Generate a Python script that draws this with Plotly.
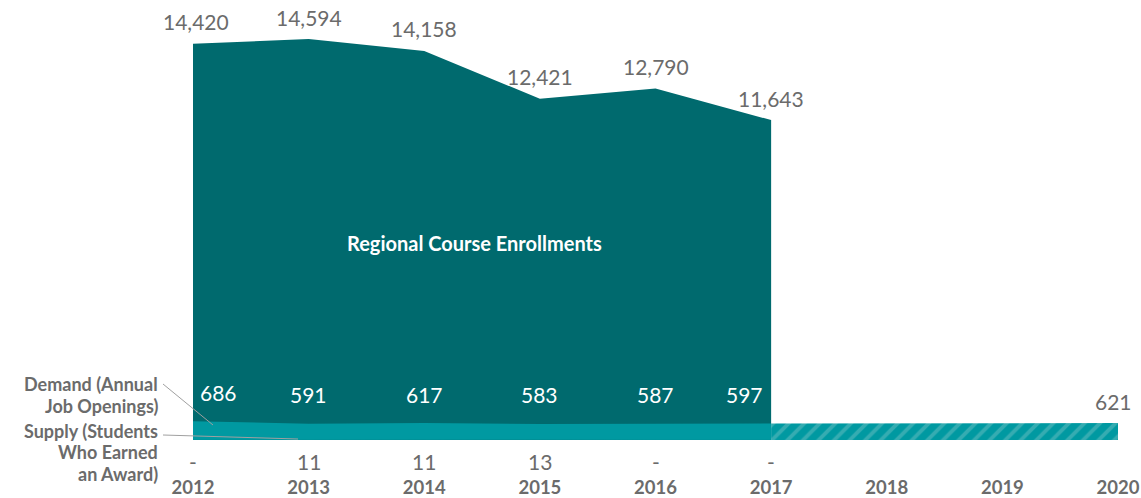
import plotly.graph_objects as go

# Data
years = [2012, 2013, 2014, 2015, 2016, 2017]
enrollments = [14420, 14594, 14158, 12421, 12790, 11643]
demand = [686, 591, 617, 583, 587, 597]
supply = [0, 11, 11, 13, 0, 0]
supply_text = ["-", "11", "11", "13", "-", "-"]
proj_years = [2017, 2020]
proj_demand = [597, 621]
axis_years = [2012, 2013, 2014, 2015, 2016, 2017, 2018, 2019, 2020]
demand_label = ["Demand (Annual", "Job Openings)"]
supply_label = ["Supply (Students", "Who Earned", "an Award)"]

DARK = "#006A6E"
MID = "#0099A1"
HATCH = "#6ABFC2"
GRAY = "#6B6B6B"
FONT = "Lato"

W, H = 1141, 498
L, R, T, B = 193, 23, 39, 58
PW, PH = W - L - R, H - T - B


def px_x(px):
    return (px - L) / PW


def px_y(py):
    return (H - B - py) / PH


fig = go.Figure()

fig.add_trace(go.Scatter(
    x=years, y=enrollments, mode="lines", fill="tozeroy",
    line=dict(width=0, color=DARK), fillcolor=DARK, hoverinfo="skip"))

fig.add_trace(go.Scatter(
    x=proj_years, y=proj_demand, mode="lines", fill="tozeroy",
    line=dict(width=0, color=MID), fillcolor=MID,
    fillpattern=dict(shape="/", bgcolor=MID, fgcolor=HATCH, size=11, solidity=0.35),
    hoverinfo="skip"))

fig.add_trace(go.Scatter(
    x=years, y=demand, mode="lines", fill="tozeroy",
    line=dict(width=0, color=MID), fillcolor=MID, hoverinfo="skip"))

fig.add_trace(go.Scatter(
    x=years, y=supply, mode="lines", fill="tozeroy",
    line=dict(width=0.5, color="#008A91"), fillcolor="#008A91", hoverinfo="skip"))

ann = []
# enrollment values above the area
for i, (x, v) in enumerate(zip(years, enrollments)):
    xs = 3 if i == 0 else 0
    ann.append(dict(x=x, y=v, text=f"{v:,}", showarrow=False, xshift=xs, yshift=22,
                    font=dict(family=FONT, size=21, color=GRAY)))

# demand values inside the enrollment area
for i, (x, v) in enumerate(zip(years, demand)):
    xs = 25 if i == 0 else (-27 if i == len(years) - 1 else 0)
    ann.append(dict(x=x, y=v, text=str(v), showarrow=False, xshift=xs, yshift=29,
                    font=dict(family=FONT, size=21, color="white")))

ann.append(dict(x=proj_years[-1], y=proj_demand[-1], text=str(proj_demand[-1]),
                showarrow=False, xshift=-5, yshift=21,
                font=dict(family=FONT, size=21, color=GRAY)))

# supply values below the baseline
for x, t in zip(years, supply_text):
    ann.append(dict(x=x, y=0, text=t, showarrow=False, yshift=-21,
                    font=dict(family=FONT, size=21, color=GRAY)))

ann.append(dict(x=px_x(474), y=px_y(243), xref="paper", yref="paper",
                xanchor="center", yanchor="middle",
                text="<b>Regional Course Enrollments</b>", showarrow=False,
                font=dict(family=FONT, size=20, color="white")))

# series captions on the left, one annotation per line
for k, line in enumerate(demand_label):
    ann.append(dict(x=px_x(159), y=px_y(384 + 21.5 * k), xref="paper", yref="paper",
                    text=f"<b>{line}</b>", showarrow=False,
                    xanchor="right", yanchor="middle", borderpad=0,
                    font=dict(family=FONT, size=18, color=GRAY)))
for k, line in enumerate(supply_label):
    ann.append(dict(x=px_x(159), y=px_y(431 + 21.5 * k), xref="paper", yref="paper",
                    text=f"<b>{line}</b>", showarrow=False,
                    xanchor="right", yanchor="middle", borderpad=0,
                    font=dict(family=FONT, size=18, color=GRAY)))

shapes = [
    dict(type="line", xref="paper", yref="paper", x0=px_x(163), y0=px_y(384),
         x1=px_x(213), y1=px_y(425), line=dict(color="#A0A0A0", width=1)),
    dict(type="line", xref="paper", yref="paper", x0=px_x(163), y0=px_y(435),
         x1=px_x(298), y1=px_y(439), line=dict(color="#A0A0A0", width=1)),
]

fig.update_layout(
    width=W, height=H,
    margin=dict(l=L, r=R, t=T, b=B),
    paper_bgcolor="white", plot_bgcolor="white",
    showlegend=False,
    annotations=ann, shapes=shapes,
    xaxis=dict(range=[2012, 2020], tickvals=axis_years,
               ticktext=[f"<b>{y}</b>" for y in axis_years],
               tickfont=dict(family=FONT, size=18.5, color=GRAY),
               showgrid=False, zeroline=False, showline=False, ticks="",
               ticklabelstandoff=34, automargin=False),
    yaxis=dict(range=[0, 14594], visible=False, showgrid=False, zeroline=False,
               automargin=False),
)

fig.write_html("out.html")
